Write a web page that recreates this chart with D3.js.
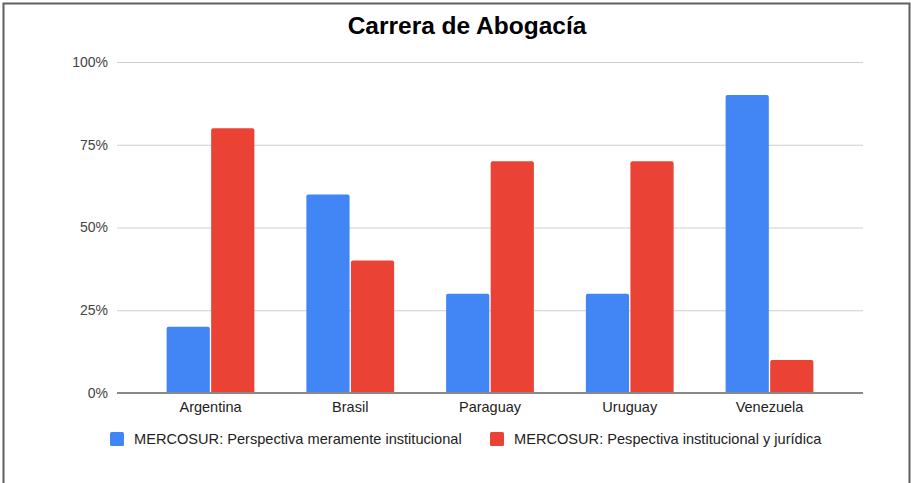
<!DOCTYPE html>
<html>
<head>
<meta charset="utf-8">
<script src="https://cdn.jsdelivr.net/npm/d3@7"></script>
<style>
  body { margin: 0; background: #fff; }
  svg { display: block; font-family: "Liberation Sans", Arial, sans-serif; }
</style>
</head>
<body>
<div id="container"></div>
<script>
const title = "Carrera de Abogacía"
const countries = ["Argentina", "Brasil", "Paraguay", "Uruguay", "Venezuela"]
const seriesNames = ["MERCOSUR: Perspectiva meramente institucional",
                     "MERCOSUR: Pespectiva institucional y jurídica"]
const institucional = [20, 60, 30, 30, 90]
const juridica = [80, 40, 70, 70, 10]
const yTicks = [0, 25, 50, 75, 100]
const colors = ["#4285f4", "#ea4335"]

const width = 911
const height = 483
const plotLeft = 117
const plotRight = 863
const plotTop = 62
const plotBottom = 393

const svg = d3.select("#container").append("svg")
              .attr("width", width)
              .attr("height", height)

// frame
svg.append("path")
   .attr("d", `M3.5,483 V3.5 H909.5 V483`)
   .attr("fill", "none")
   .attr("stroke", "#5f5f5f")
   .attr("stroke-width", 2)

svg.append("text")
   .attr("x", 467)
   .attr("y", 34)
   .attr("text-anchor", "middle")
   .attr("font-size", 24.5)
   .attr("font-weight", "bold")
   .attr("fill", "#000")
   .text(title)

const yScale = d3.scaleLinear().domain([0, 100]).range([plotBottom, plotTop])

const xScale = d3.scaleBand()
                 .domain(countries)
                 .range([plotLeft, plotRight])
                 .paddingInner(0.372)
                 .paddingOuter(0.355)

const inner = d3.scaleBand()
                .domain([0, 1])
                .range([0, xScale.bandwidth()])
                .paddingInner(0.03)

// gridlines
svg.append("g")
   .selectAll("line")
   .data(yTicks.filter(t => t > 0))
   .enter()
   .append("line")
   .attr("x1", plotLeft)
   .attr("x2", plotRight)
   .attr("y1", d => yScale(d) + 0.5)
   .attr("y2", d => yScale(d) + 0.5)
   .attr("stroke", "#cfcfcf")

const yAxis = d3.axisLeft(yScale)
                .tickValues(yTicks)
                .tickSize(0)
                .tickPadding(8)
                .tickFormat(d => d + "%")

svg.append("g")
   .attr("transform", `translate(${plotLeft - 1}, 0)`)
   .call(yAxis)
   .call(g => g.select(".domain").remove())
   .call(g => g.selectAll("text").attr("font-size", 14).attr("fill", "#444").attr("font-family", null))

const data = countries.map((c, i) => ({country: c, values: [institucional[i], juridica[i]]}))

const groups = svg.append("g")
                  .selectAll("g")
                  .data(data)
                  .enter()
                  .append("g")
                  .attr("transform", d => `translate(${xScale(d.country)}, 0)`)

groups.selectAll("path")
      .data(d => d.values.map((v, k) => ({v, k})))
      .enter()
      .append("path")
      .attr("fill", d => colors[d.k])
      .attr("d", d => {
          const x0 = inner(d.k), w = inner.bandwidth()
          const y0 = yScale(d.v), y1 = yScale(0), r = 2
          return `M${x0},${y1} V${y0 + r} Q${x0},${y0} ${x0 + r},${y0} H${x0 + w - r} Q${x0 + w},${y0} ${x0 + w},${y0 + r} V${y1} Z`
      })

// baseline
svg.append("line")
   .attr("x1", plotLeft)
   .attr("x2", plotRight)
   .attr("y1", yScale(0))
   .attr("y2", yScale(0))
   .attr("stroke", "#888")
   .attr("stroke-width", 2)

const xAxis = d3.axisBottom(xScale).tickSize(0).tickPadding(9)

svg.append("g")
   .attr("transform", `translate(0, ${plotBottom})`)
   .call(xAxis)
   .call(g => g.select(".domain").remove())
   .call(g => g.selectAll("text").attr("font-size", 14.5).attr("fill", "#222").attr("font-family", null))

// legend
const legendX = [110, 490]
const legend = svg.append("g")
                  .selectAll("g")
                  .data(seriesNames)
                  .enter()
                  .append("g")
                  .attr("transform", (_, i) => `translate(${legendX[i]}, 432)`)

legend.append("rect")
      .attr("width", 14)
      .attr("height", 14)
      .attr("rx", 1.5)
      .attr("fill", (_, i) => colors[i])

legend.append("text")
      .attr("x", 24)
      .attr("y", 12)
      .attr("font-size", 14.6)
      .attr("fill", "#222")
      .text(d => d)
</script>
</body>
</html>
